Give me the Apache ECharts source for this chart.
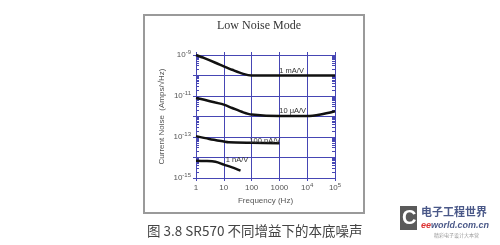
<!DOCTYPE html>
<html><head><meta charset="utf-8">
<script src="https://cdn.jsdelivr.net/npm/echarts@6/dist/echarts.min.js"></script>
<style>html,body{margin:0;padding:0;background:#fff}#c{width:500px;height:245px}</style>
</head><body><div id="c"></div>
<script>
// ---- data ----
const freq_1mAV   = [1, 2, 5, 10, 20, 50, 100, 1000, 10000, 100000];
const noise_1mAV  = [1e-9, 7e-10, 4.2e-10, 2.8e-10, 1.9e-10, 1.2e-10, 1.0e-10, 1.0e-10, 1.0e-10, 1.0e-10];
const freq_10uAV  = [1, 2, 5, 10, 20, 50, 100, 1000, 10000, 30000, 100000];
const noise_10uAV = [8e-12, 6.5e-12, 4.8e-12, 3.8e-12, 2.6e-12, 1.6e-12, 1.25e-12, 1.05e-12, 1.05e-12, 1.25e-12, 1.8e-12];
const freq_100nAV  = [1, 3, 10, 15, 100, 1000];
const noise_100nAV = [1.1e-13, 8e-14, 6e-14, 5.5e-14, 5.2e-14, 5e-14];
const freq_1nAV  = [1, 2, 5, 10, 20, 40];
const noise_1nAV = [7e-15, 6.8e-15, 6.2e-15, 4.5e-15, 3.3e-15, 2.3e-15];
const seriesNames = ['1 mA/V', '10 μA/V', '100 nA/V', '1 nA/V'];
// label anchors in data space [freq, noise]
const labelAnchors = [[2750, 1.6e-10], [3000, 1.9e-12], [300, 6.5e-14], [30, 7.3e-15]];
const yMin = 1e-15, yMax = 1e-9, xMin = 1, xMax = 1e5;
const xTickLabels = {1:'1', 10:'10', 100:'100', 1000:'1000', 10000:'10^4', 100000:'10^5'};
const titleText = 'Low Noise Mode';
const xName = 'Frequency (Hz)';
const yName = 'Current Noise  (Amps/√Hz)';
const captionText = '图 3.8 SR570 不同增益下的本底噪声';

// minor tick values (2..9 per decade)
const minorY = [];
for (let e = -15; e < -9; e++) for (let k = 1; k <= 9; k++) minorY.push(k * Math.pow(10, e));
minorY.push(1e-9);

const BLUE = '#4646b4';
const chart = echarts.init(document.getElementById('c'));
function zip(a, b) { return a.map((v, i) => [v, b[i]]); }
const datas = [zip(freq_1mAV, noise_1mAV), zip(freq_10uAV, noise_10uAV), zip(freq_100nAV, noise_100nAV), zip(freq_1nAV, noise_1nAV)];

const supRich = {
  b: {fontSize: 8, color: '#555', fontFamily: 'Liberation Sans', lineHeight: 12},
  s: {fontSize: 6, color: '#555', fontFamily: 'Liberation Sans', lineHeight: 6, verticalAlign: 'top', padding: [0,0,0,0]}
};

chart.setOption({
  animation: false,
  grid: {left: 196, right: 165, top: 55, bottom: 67},
  title: {text: titleText, left: 254, top: 15, textAlign: 'center',
    textStyle: {fontFamily: 'Liberation Serif', fontSize: 12, fontWeight: 'normal', color: '#333'}},
  xAxis: [{
    type: 'log', logBase: 10, min: xMin, max: xMax, interval: 1,
    name: xName, nameLocation: 'middle', nameGap: 16,
    nameTextStyle: {fontFamily: 'Liberation Sans', fontSize: 8, color: '#555'},
    axisLine: {lineStyle: {color: BLUE, width: 1}},
    axisTick: {show: true, inside: false, length: 3, lineStyle: {color: BLUE}},
    splitLine: {show: true, lineStyle: {color: BLUE, width: 1}},
    axisLabel: {margin: 4, rich: supRich, formatter: v => {
      const e = Math.round(Math.log10(v));
      const s = xTickLabels[Math.pow(10, e)];
      if (s && s.indexOf('^') > 0) { const p = s.split('^'); return '{b|' + p[0] + '}{s|' + p[1] + '}'; }
      return '{b|' + s + '}';
    }}
  }, {
    type: 'log', logBase: 10, min: xMin, max: xMax, interval: 1, position: 'top',
    axisLine: {lineStyle: {color: BLUE, width: 1}},
    axisTick: {show: true, inside: false, length: 3, lineStyle: {color: BLUE}},
    splitLine: {show: false}, axisLabel: {show: false}
  }],
  yAxis: [{
    type: 'log', logBase: 10, min: yMin, max: yMax, interval: 1,
    name: yName, nameLocation: 'middle', nameGap: 30,
    nameTextStyle: {fontFamily: 'Liberation Sans', fontSize: 8, color: '#555'},
    axisLine: {show: true, lineStyle: {color: BLUE, width: 1}},
    axisTick: {show: true, inside: false, length: 3, lineStyle: {color: BLUE}},
    splitLine: {show: true, lineStyle: {color: BLUE, width: 1}},
    axisLabel: {margin: 5, rich: supRich, formatter: v => {
      const e = Math.round(Math.log10(v));
      if (Math.abs(e) % 2 === 0) return '';
      return '{b|10}{s|' + e + '}';
    }}
  }, {
    type: 'log', logBase: 10, min: yMin, max: yMax, position: 'left',
    axisLine: {show: false},
    axisTick: {show: true, inside: true, length: 3, customValues: minorY, lineStyle: {color: BLUE}},
    splitLine: {show: false}, axisLabel: {show: false}
  }, {
    type: 'log', logBase: 10, min: yMin, max: yMax, position: 'right',
    axisLine: {show: true, lineStyle: {color: BLUE, width: 1}},
    axisTick: {show: true, inside: true, length: 3, customValues: minorY, lineStyle: {color: BLUE}},
    splitLine: {show: false}, axisLabel: {show: false}
  }],
  series: datas.map((d, i) => ({
    name: seriesNames[i], type: 'line', data: d, smooth: 0.3, showSymbol: false,
    xAxisIndex: 0, yAxisIndex: 0,
    lineStyle: {color: '#111', width: 2.5},
    markPoint: {symbol: 'circle', symbolSize: 0, silent: true,
      label: {show: true, position: 'inside', formatter: seriesNames[i], color: '#333',
        fontFamily: 'Liberation Sans', fontSize: 7.5},
      data: [{coord: labelAnchors[i]}]}
  })),
  graphic: [
    {type: 'rect', shape: {x: 144, y: 15, width: 220, height: 198}, style: {fill: 'none', stroke: '#9a9a9a', lineWidth: 2}, silent: true},
    {type: 'text', left: 147, top: 224, style: {text: captionText, fontFamily: 'Noto Sans CJK SC', fontSize: 13.5, fill: '#444'}},
    {type: 'rect', shape: {x: 400, y: 206, width: 17, height: 24}, style: {fill: '#5a5a5a'}},
    {type: 'text', x: 402, y: 208, style: {text: 'C', fontFamily: 'Liberation Sans', fontWeight: 'bold', fontSize: 20, fill: '#fff'}},
    {type: 'text', x: 421, y: 206, style: {text: '电子工程世界', fontFamily: 'Noto Sans CJK SC', fontWeight: 'bold', fontSize: 11, fill: '#4a5888'}},
    {type: 'text', x: 421, y: 221, style: {rich: {r: {fill: '#d33', fontSize: 9, fontStyle: 'italic', fontWeight: 'bold', fontFamily: 'Liberation Sans'}, g: {fill: '#4a5888', fontSize: 9, fontStyle: 'italic', fontWeight: 'bold', fontFamily: 'Liberation Sans'}}, text: '{r|ee}{g|world.com.cn}'}},
    {type: 'text', x: 434, y: 233, style: {text: '精彩电子设计大本营', fontFamily: 'Noto Sans CJK SC', fontSize: 5, fill: '#999'}}
  ]
});
</script></body></html>
